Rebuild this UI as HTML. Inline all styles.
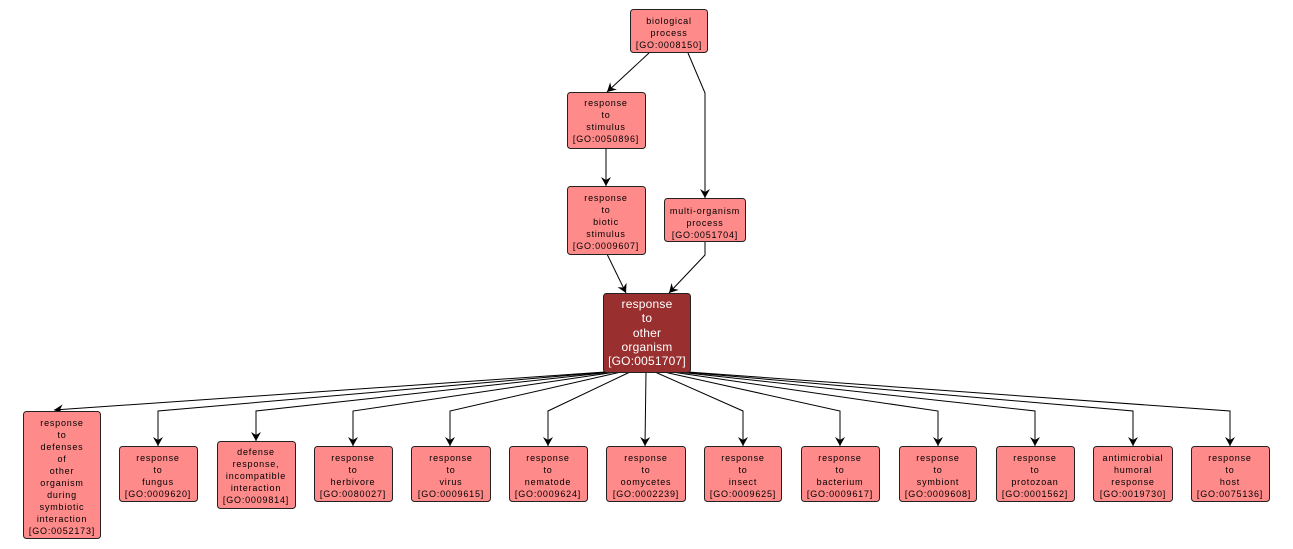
<!DOCTYPE html>
<html><head><meta charset="utf-8"><style>
html,body{margin:0;padding:0;background:#fff;}
svg{display:block;}
text{font-family:"Liberation Sans",sans-serif;font-size:9px;text-anchor:middle;fill:#000;letter-spacing:0.8px;}
.c text{fill:#fff;font-size:12px;letter-spacing:0.2px;}
</style></head><body>
<svg width="1293" height="549" viewBox="0 0 1293 549" xmlns="http://www.w3.org/2000/svg">
<defs><marker id="a" markerWidth="10" markerHeight="10" refX="9" refY="5" orient="auto" markerUnits="userSpaceOnUse"><path d="M0,0 L9,5 L0,10 L3,5 Z" fill="#000"/></marker></defs>
<g fill="none" stroke="#000" stroke-width="1">
<path d="M649,53 L607,92" marker-end="url(#a)"/>
<path d="M688,53 L705,93 L705,198" marker-end="url(#a)"/>
<path d="M606,148 L606,186" marker-end="url(#a)"/>
<path d="M607,254 L626,293" marker-end="url(#a)"/>
<path d="M705,241 L705,255 L669,293" marker-end="url(#a)"/>
<path d="M605,372 L54,410" marker-end="url(#a)"/>
<path d="M608,372 L158,411 L158,446" marker-end="url(#a)"/>
<path d="M612,372 L256,411 L256,441" marker-end="url(#a)"/>
<path d="M616,372 L353,411 L353,446" marker-end="url(#a)"/>
<path d="M621,372 L450,411 L450,446" marker-end="url(#a)"/>
<path d="M630,372 L548,411 L548,446" marker-end="url(#a)"/>
<path d="M646,372 L645,446" marker-end="url(#a)"/>
<path d="M655,372 L743,411 L743,446" marker-end="url(#a)"/>
<path d="M664,372 L840,411 L840,446" marker-end="url(#a)"/>
<path d="M672,372 L938,411 L938,446" marker-end="url(#a)"/>
<path d="M678,372 L1035,411 L1035,446" marker-end="url(#a)"/>
<path d="M683,372 L1133,411 L1133,446" marker-end="url(#a)"/>
<path d="M688,372 L1230,411 L1230,446" marker-end="url(#a)"/>
</g>
<g fill="#fe8a8a" stroke="#222" stroke-width="1">
<rect x="630.5" y="9.5" width="77" height="43" rx="3"/>
<rect x="567.5" y="92.5" width="78" height="56" rx="3"/>
<rect x="567.5" y="186.5" width="78" height="68" rx="3"/>
<rect x="664.5" y="198.5" width="81" height="43" rx="3"/>
<rect x="23.5" y="411.5" width="77" height="127" rx="3"/>
<rect x="119.5" y="446.5" width="78" height="55" rx="3"/>
<rect x="217.5" y="441.5" width="78" height="67" rx="3"/>
<rect x="314.5" y="446.5" width="78" height="55" rx="3"/>
<rect x="411.5" y="446.5" width="79" height="55" rx="3"/>
<rect x="509.5" y="446.5" width="78" height="55" rx="3"/>
<rect x="606.5" y="446.5" width="79" height="55" rx="3"/>
<rect x="704.5" y="446.5" width="77" height="55" rx="3"/>
<rect x="801.5" y="446.5" width="78" height="55" rx="3"/>
<rect x="899.5" y="446.5" width="77" height="55" rx="3"/>
<rect x="996.5" y="446.5" width="78" height="55" rx="3"/>
<rect x="1093.5" y="446.5" width="79" height="55" rx="3"/>
<rect x="1191.5" y="446.5" width="78" height="55" rx="3"/>
</g>
<rect x="603.5" y="293.5" width="87" height="79" rx="3" fill="#9a2f2f" stroke="#222"/>
<g>
<text x="669" y="24">biological</text><text x="669" y="36">process</text><text x="669" y="48">[GO:0008150]</text>
<text x="606" y="106">response</text><text x="606" y="118">to</text><text x="606" y="130">stimulus</text><text x="606" y="142">[GO:0050896]</text>
<text x="606" y="201">response</text><text x="606" y="213">to</text><text x="606" y="225">biotic</text><text x="606" y="237">stimulus</text><text x="606" y="249">[GO:0009607]</text>
<text x="705" y="214">multi-organism</text><text x="705" y="226">process</text><text x="705" y="238">[GO:0051704]</text>
</g>
<g class="c">
<text x="647" y="308">response</text><text x="647" y="322">to</text><text x="647" y="337">other</text><text x="647" y="351">organism</text><text x="647" y="365">[GO:0051707]</text>
</g>
<g>
<text x="62" y="426">response</text><text x="62" y="438">to</text><text x="62" y="450">defenses</text><text x="62" y="462">of</text><text x="62" y="474">other</text><text x="62" y="486">organism</text><text x="62" y="498">during</text><text x="62" y="510">symbiotic</text><text x="62" y="522">interaction</text><text x="62" y="534">[GO:0052173]</text>
<text x="158" y="461">response</text><text x="158" y="473">to</text><text x="158" y="485">fungus</text><text x="158" y="497">[GO:0009620]</text>
<text x="256" y="455">defense</text><text x="256" y="467">response,</text><text x="256" y="479">incompatible</text><text x="256" y="491">interaction</text><text x="256" y="503">[GO:0009814]</text>
<text x="353" y="461">response</text><text x="353" y="473">to</text><text x="353" y="485">herbivore</text><text x="353" y="497">[GO:0080027]</text>
<text x="451" y="461">response</text><text x="451" y="473">to</text><text x="451" y="485">virus</text><text x="451" y="497">[GO:0009615]</text>
<text x="548" y="461">response</text><text x="548" y="473">to</text><text x="548" y="485">nematode</text><text x="548" y="497">[GO:0009624]</text>
<text x="646" y="461">response</text><text x="646" y="473">to</text><text x="646" y="485">oomycetes</text><text x="646" y="497">[GO:0002239]</text>
<text x="743" y="461">response</text><text x="743" y="473">to</text><text x="743" y="485">insect</text><text x="743" y="497">[GO:0009625]</text>
<text x="840" y="461">response</text><text x="840" y="473">to</text><text x="840" y="485">bacterium</text><text x="840" y="497">[GO:0009617]</text>
<text x="938" y="461">response</text><text x="938" y="473">to</text><text x="938" y="485">symbiont</text><text x="938" y="497">[GO:0009608]</text>
<text x="1035" y="461">response</text><text x="1035" y="473">to</text><text x="1035" y="485">protozoan</text><text x="1035" y="497">[GO:0001562]</text>
<text x="1133" y="461">antimicrobial</text><text x="1133" y="473">humoral</text><text x="1133" y="485">response</text><text x="1133" y="497">[GO:0019730]</text>
<text x="1230" y="461">response</text><text x="1230" y="473">to</text><text x="1230" y="485">host</text><text x="1230" y="497">[GO:0075136]</text>
</g>
</svg>
</body></html>
